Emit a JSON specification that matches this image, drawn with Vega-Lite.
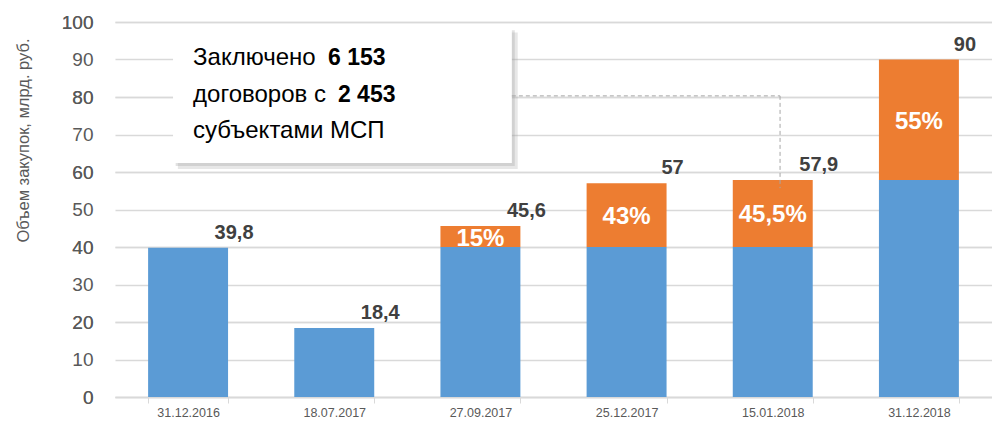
{
  "$schema": "https://vega.github.io/schema/vega-lite/v6.json",
  "autosize": "none",
  "width": 877,
  "height": 375,
  "padding": {"left": 115, "top": 22, "right": 0, "bottom": 27},
  "background": "white",
  "config": {
    "view": {"stroke": null},
    "font": "Liberation Sans"
  },
  "datasets": {
    "bars": [
      {"d": "31.12.2016", "blue": 39.8, "total": 39.8, "label": "39,8", "pct": null},
      {"d": "18.07.2017", "blue": 18.4, "total": 18.4, "label": "18,4", "pct": null},
      {"d": "27.09.2017", "blue": 40, "total": 45.6, "label": "45,6", "pct": "15%"},
      {"d": "25.12.2017", "blue": 40, "total": 57, "label": "57", "pct": "43%"},
      {"d": "15.01.2018", "blue": 40, "total": 57.9, "label": "57,9", "pct": "45,5%"},
      {"d": "31.12.2018", "blue": 57.9, "total": 90, "label": "90", "pct": "55%"}
    ]
  },
  "resolve": {"scale": {"x": "independent", "y": "independent"}, "axis": {"y": "independent"}},
  "layer": [
    {
      "data": {"name": "bars"},
      "encoding": {
        "x": {
          "field": "d", "type": "nominal", "sort": null,
          "scale": {"paddingInner": 0.453, "paddingOuter": 0.2265},
          "axis": {
            "title": null, "labelAngle": 0, "labelFont": "Liberation Sans", "labelFontSize": 12.5,
            "labelColor": "#595959", "labelPadding": 3, "tickBand": "extent", "tickSize": 6,
            "tickColor": "#d9d9d9", "domainColor": "#d9d9d9", "domainWidth": 1.5, "grid": false
          }
        }
      },
      "layer": [
        {
          "mark": {"type": "bar", "color": "#5B9BD5"},
          "encoding": {
            "y": {
              "field": "blue", "type": "quantitative",
              "scale": {"domain": [0, 100], "nice": false},
              "axis": {
                "title": "Объем закупок, млрд. руб.", "titleFont": "Liberation Sans", "titleFontSize": 16.5,
                "titleFontWeight": "normal", "titleColor": "#595959", "titleX": -92, "titleY": 118,
                "titleAngle": -90, "titleAlign": "center", "titleBaseline": "middle",
                "values": [0, 10, 20, 30, 40, 50, 60, 70, 80, 90, 100], "labelOverlap": false,
                "labelFont": "Liberation Sans", "labelFontSize": 19, "labelColor": "#595959",
                "labelPadding": 22, "ticks": false, "domain": false,
                "gridColor": "#d9d9d9", "gridWidth": 1.5
              }
            },
            "y2": {"datum": 0}
          }
        },
        {
          "transform": [{"filter": "datum.total > datum.blue"}],
          "mark": {"type": "bar", "color": "#ED7D31"},
          "encoding": {
            "y": {"field": "blue", "type": "quantitative"},
            "y2": {"field": "total"}
          }
        },
        {
          "mark": {"type": "text", "font": "Liberation Sans", "fontSize": 20, "fontWeight": "bold",
                   "color": "#404040", "align": "center", "baseline": "alphabetic", "dx": 46, "dy": -9},
          "encoding": {
            "y": {"field": "total", "type": "quantitative"},
            "text": {"field": "label"}
          }
        },
        {
          "transform": [
            {"filter": "datum.pct != null"},
            {"fold": ["blue", "total"], "as": ["k", "v"]}
          ],
          "mark": {"type": "text", "font": "Liberation Sans", "fontSize": 24, "fontWeight": "bold",
                   "color": "white", "align": "center", "baseline": "middle", "dy": 2},
          "encoding": {
            "y": {"field": "v", "type": "quantitative", "aggregate": "mean"},
            "text": {"field": "pct"}
          }
        }
      ]
    },
    {
      "data": {"values": [{}]},
      "encoding": {
        "y": {
          "datum": 0, "type": "quantitative",
          "scale": {"domain": [-10, 90], "nice": false, "zero": false},
          "axis": {
            "orient": "right", "title": null, "labelExpr": "datum.value + 10",
            "labelAlign": "right", "labelBaseline": "middle", "labelPadding": -899,
            "labelOverlap": false, "labelFont": "Liberation Sans", "labelFontSize": 19, "labelColor": "#595959",
            "ticks": false, "domain": false, "grid": true, "gridColor": "#d9d9d9", "gridWidth": 1.5
          }
        }
      },
      "layer": [
        {
          "mark": {"type": "rect", "color": "#a0a0a0", "opacity": 0.25},
          "encoding": {
            "x": {"datum": 0.43, "type": "quantitative", "scale": {"domain": [0, 6], "nice": false, "zero": false}, "axis": null},
            "x2": {"datum": 2.755},
            "y": {"datum": 87.2, "type": "quantitative"},
            "y2": {"datum": 50.8}
          }
        },
        {
          "mark": {"type": "rect", "color": "#a0a0a0", "opacity": 0.3},
          "encoding": {
            "x": {"datum": 0.415, "type": "quantitative"},
            "x2": {"datum": 2.735},
            "y": {"datum": 87.8, "type": "quantitative"},
            "y2": {"datum": 51.6}
          }
        },
        {
          "mark": {"type": "rect", "color": "white"},
          "encoding": {
            "x": {"datum": 0.397, "type": "quantitative"},
            "x2": {"datum": 2.715},
            "y": {"datum": 88.4, "type": "quantitative"},
            "y2": {"datum": 52.4}
          }
        },
        {
          "mark": {"type": "rule", "color": "#a6a6a6", "strokeDash": [4, 3], "strokeWidth": 1},
          "encoding": {
            "x": {"datum": 2.715, "type": "quantitative"},
            "x2": {"datum": 4.55},
            "y": {"datum": 70.3, "type": "quantitative"}
          }
        },
        {
          "mark": {"type": "rule", "color": "#a6a6a6", "strokeDash": [4, 3], "strokeWidth": 1},
          "encoding": {
            "x": {"datum": 4.55, "type": "quantitative"},
            "y": {"datum": 70.3, "type": "quantitative"},
            "y2": {"datum": 45.7}
          }
        },
        {
          "mark": {"type": "text", "font": "Liberation Sans", "fontSize": 24, "color": "black", "align": "left", "baseline": "alphabetic"},
          "encoding": {
            "x": {"datum": 0.534, "type": "quantitative"},
            "y": {"datum": 78.5, "type": "quantitative"},
            "text": {"datum": "Заключено"}
          }
        },
        {
          "mark": {"type": "text", "font": "Liberation Sans", "fontSize": 23, "fontWeight": "bold", "color": "black", "align": "left", "baseline": "alphabetic"},
          "encoding": {
            "x": {"datum": 1.457, "type": "quantitative"},
            "y": {"datum": 78.5, "type": "quantitative"},
            "text": {"datum": "6 153"}
          }
        },
        {
          "mark": {"type": "text", "font": "Liberation Sans", "fontSize": 24, "color": "black", "align": "left", "baseline": "alphabetic"},
          "encoding": {
            "x": {"datum": 0.534, "type": "quantitative"},
            "y": {"datum": 68.7, "type": "quantitative"},
            "text": {"datum": "договоров с"}
          }
        },
        {
          "mark": {"type": "text", "font": "Liberation Sans", "fontSize": 23, "fontWeight": "bold", "color": "black", "align": "left", "baseline": "alphabetic"},
          "encoding": {
            "x": {"datum": 1.525, "type": "quantitative"},
            "y": {"datum": 68.7, "type": "quantitative"},
            "text": {"datum": "2 453"}
          }
        },
        {
          "mark": {"type": "text", "font": "Liberation Sans", "fontSize": 24, "color": "black", "align": "left", "baseline": "alphabetic"},
          "encoding": {
            "x": {"datum": 0.534, "type": "quantitative"},
            "y": {"datum": 59.1, "type": "quantitative"},
            "text": {"datum": "субъектами МСП"}
          }
        }
      ]
    }
  ]
}
